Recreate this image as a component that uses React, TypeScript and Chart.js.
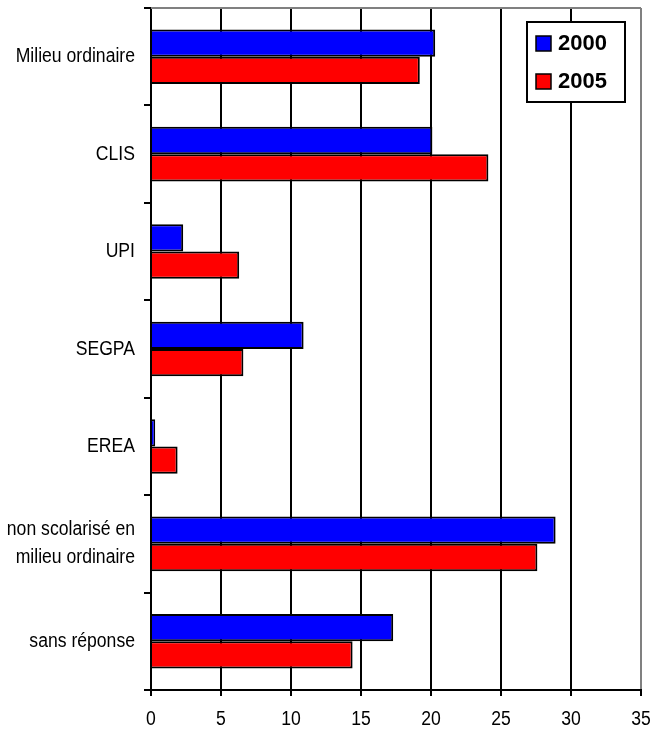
import { useEffect, useRef } from "react";
import { Chart, registerables } from "chart.js";

Chart.register(...registerables);

// Répartition (%) par type de scolarisation
const categories: (string | string[])[] = [
  "Milieu ordinaire",
  "CLIS",
  "UPI",
  "SEGPA",
  "EREA",
  ["non scolarisé en", "milieu ordinaire"],
  "sans réponse",
];
const values2000 = [20.3, 20.1, 2.3, 10.9, 0.3, 28.9, 17.3];
const values2005 = [19.2, 24.1, 6.3, 6.6, 1.9, 27.6, 14.4];
const seriesLabels = ["2000", "2005"];
const xMin = 0;
const xMax = 35;
const xStep = 5;

const LABEL_FONT = "20px 'Liberation Sans', Arial, sans-serif";
const LEGEND_FONT = "bold 22px 'Liberation Sans', Arial, sans-serif";
const NARROW = 0.88; // horizontal squeeze giving a condensed look to axis labels

function drawNarrowText(ctx: CanvasRenderingContext2D, text: string, x: number, y: number, align: CanvasTextAlign) {
  ctx.save();
  ctx.translate(x, y);
  ctx.scale(NARROW, 1);
  ctx.textAlign = align;
  ctx.fillText(text, 0, 0);
  ctx.restore();
}

// Condensed axis labels, placed from the chart's own scales
const narrowTickLabels = {
  id: "narrowTickLabels",
  afterDraw(chart: any) {
    const { ctx, chartArea } = chart;
    const xScale = chart.scales.x;
    const yScale = chart.scales.y;
    ctx.save();
    ctx.font = LABEL_FONT;
    ctx.fillStyle = "#000000";
    ctx.textBaseline = "middle";

    const labels = chart.data.labels as (string | string[])[];
    labels.forEach((label, i) => {
      const lines = Array.isArray(label) ? label : [label];
      const cy = yScale.getPixelForTick(i);
      const lineGap = 28;
      const y0 = cy - ((lines.length - 1) * lineGap) / 2;
      lines.forEach((line, j) => {
        drawNarrowText(ctx, line, chartArea.left - 16, y0 + j * lineGap, "right");
      });
    });

    xScale.ticks.forEach((t: any) => {
      const px = xScale.getPixelForValue(t.value);
      drawNarrowText(ctx, String(t.value), px, chartArea.bottom + 29, "center");
    });
    ctx.restore();
  },
};

// Framed legend drawn in the top-right corner of the plot area
const boxLegend = {
  id: "boxLegend",
  afterDraw(chart: any) {
    const { ctx, chartArea } = chart;
    const x = chartArea.right - 114;
    const y = chartArea.top + 14;
    const w = 98;
    const h = 80;
    ctx.save();
    ctx.fillStyle = "#ffffff";
    ctx.fillRect(x, y, w, h);
    ctx.lineWidth = 2;
    ctx.strokeStyle = "#000000";
    ctx.strokeRect(x, y, w, h);
    chart.data.datasets.forEach((ds: any, i: number) => {
      const cy = y + 21 + i * 38;
      ctx.fillStyle = ds.backgroundColor;
      ctx.fillRect(x + 9, cy - 7, 15, 15);
      ctx.lineWidth = 1.5;
      ctx.strokeStyle = "#000000";
      ctx.strokeRect(x + 9, cy - 7, 15, 15);
      ctx.font = LEGEND_FONT;
      ctx.textAlign = "left";
      ctx.textBaseline = "middle";
      ctx.fillStyle = "#000000";
      ctx.fillText(ds.label, x + 31, cy + 1);
    });
    ctx.restore();
  },
};

// Grey frame line along the top of the plot area
const topFrame = {
  id: "topFrame",
  beforeDatasetsDraw(chart: any) {
    const { ctx, chartArea } = chart;
    ctx.save();
    ctx.strokeStyle = "#808080";
    ctx.lineWidth = 2;
    ctx.beginPath();
    ctx.moveTo(chartArea.left, chartArea.top);
    ctx.lineTo(chartArea.right, chartArea.top);
    ctx.stroke();
    ctx.restore();
  },
};

export default function App() {
  const canvasRef = useRef<HTMLCanvasElement | null>(null);

  useEffect(() => {
    const canvas = canvasRef.current;
    if (!canvas) return;
    const chart = new Chart(canvas, {
      type: "bar",
      data: {
        labels: categories as any,
        datasets: [
          {
            label: seriesLabels[0],
            data: values2000,
            backgroundColor: "#0000ff",
            borderColor: "#000000",
            borderWidth: 2,
            categoryPercentage: 0.56,
            barPercentage: 1,
          },
          {
            label: seriesLabels[1],
            data: values2005,
            backgroundColor: "#ff0000",
            borderColor: "#000000",
            borderWidth: 2,
            categoryPercentage: 0.56,
            barPercentage: 1,
          },
        ],
      },
      options: {
        indexAxis: "y",
        responsive: false,
        animation: false,
        devicePixelRatio: 1,
        layout: { padding: { top: 8, right: 11, left: 0, bottom: 0 } },
        plugins: {
          legend: { display: false },
          tooltip: { enabled: false },
        },
        scales: {
          x: {
            min: xMin,
            max: xMax,
            ticks: {
              stepSize: xStep,
              display: false,
            },
            grid: {
              color: (c: any) => (c.tick && c.tick.value === xMax ? "#808080" : "#000000"),
              tickColor: "#000000",
              lineWidth: 2,
              tickLength: 6,
            },
            border: { display: true, color: "#000000", width: 2 },
            afterFit: (scale: any) => {
              scale.height = 41;
              scale.paddingLeft = 0;
              scale.paddingRight = 0;
            },
          },
          y: {
            ticks: { display: false },
            grid: {
              offset: true,
              drawOnChartArea: false,
              drawTicks: true,
              tickLength: 7,
              color: "#000000",
              lineWidth: 2,
            },
            border: { display: true, color: "#000000", width: 2 },
            afterFit: (scale: any) => {
              scale.width = 151;
              scale.paddingTop = 0;
              scale.paddingBottom = 0;
            },
          },
        },
      },
      plugins: [topFrame, narrowTickLabels, boxLegend],
    });
    return () => chart.destroy();
  }, []);

  return (
    <div style={{ position: "absolute", left: 0, top: 0, width: 652, height: 731, background: "#ffffff" }}>
      <canvas ref={canvasRef} width={652} height={731} />
    </div>
  );
}
